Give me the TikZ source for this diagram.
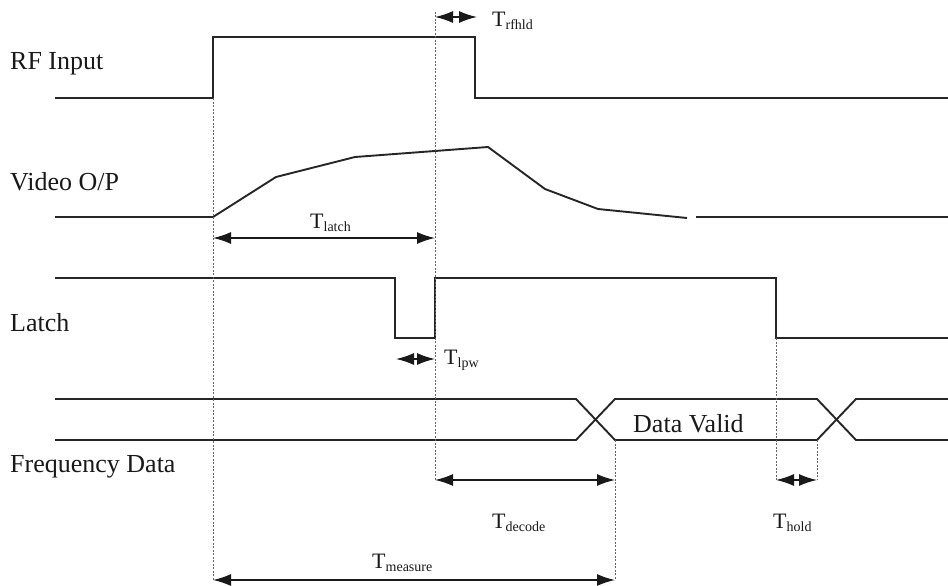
\documentclass[tikz,border=0pt]{standalone}
\usepackage{fontspec}
\setmainfont{Liberation Serif}
\usetikzlibrary{arrows.meta}
\newcommand{\tsub}[1]{{\fontsize{22}{22}\selectfont T}{\fontsize{14}{14}\selectfont\raisebox{-3pt}{#1}}}
\begin{document}
\begin{tikzpicture}[x=1pt,y=-1pt,
  sig/.style={line width=1.9pt, black!85, line join=miter},
  guide/.style={line width=0.8pt, black!60, dash pattern=on 2pt off 1.5pt},
  dim/.style={line width=1.5pt, black!90, {Latex[length=18pt,width=12pt]}-{Latex[length=18pt,width=12pt]}},
  lab/.style={font=\fontsize{26}{30}\selectfont, inner sep=0pt, anchor=base west, black!90},
  tlab/.style={inner sep=0pt, anchor=base west, black!90}]
\useasboundingbox (0,0) rectangle (948,586);
\fill[white] (0,0) rectangle (948,586);

% signal labels
\node[lab] (lrf) at (10,70) {RF Input};
\node[lab] (lvid) at (10,190) {Video O/P};
\node[lab] (llat) at (10,331) {Latch};
\node[lab] (lfd) at (10,472) {Frequency Data};
\node[lab] (ldv) at (633,432) {Data Valid};

% RF input
\draw[sig] (55,98) -- (213,98) coordinate (rfr) -- (213,37) -- (475,37) -- (475,98) coordinate (rff) -- (948,98);
% Video
\draw[sig] (55,217) -- (213,217) coordinate (vs) -- (276,177) -- (355,157) -- (488,147) -- (545,189) -- (598,209) -- (687,218);
\draw[sig] (696,217) -- (948,217);
% Latch
\draw[sig] (55,278) -- (395,278) -- (395,338) coordinate (lf) -- (435,338) coordinate (lr) -- (435,278) -- (776,278) -- (776,338) coordinate (lf2) -- (948,338);
% Frequency data bus
\draw[sig] (55,399) -- (576,399) -- (615,440) coordinate (dvs) -- (817,440) coordinate (dve) -- (856,399) -- (948,399);
\draw[sig] (55,440) -- (576,440) -- (615,399) -- (817,399) -- (856,440) -- (948,440);

% guide coordinates
\coordinate (g1a) at (213,580);
\coordinate (g2t) at (435,12);
\coordinate (g2b) at (435,480);
\coordinate (g3b) at (615,580);
\coordinate (g4b) at (776,480);
\coordinate (g5b) at (817,480);

\draw[guide] (rfr) -- (g1a);
\draw[guide] (g2t) -- (g2b);
\draw[guide] (dvs) -- (g3b);
\draw[guide] (lf2) -- (g4b);
\draw[guide] (dve) -- (g5b);

% dimension arrows
\coordinate (rh1) at (435,17);
\coordinate (rh2) at (477,17);
\draw[dim] (rh1) -- (rh2);
\node[tlab] (trf) at (492,27) {\tsub{rfhld}};

\coordinate (la1) at (213,238);
\coordinate (la2) at (435,238);
\draw[dim] (la1) -- (la2);
\node[tlab] (tla) at (310,228) {\tsub{latch}};

\coordinate (lp1) at (396,359);
\coordinate (lp2) at (435,359);
\draw[dim] (lp1) -- (lp2);
\node[tlab] (tlp) at (444,364) {\tsub{lpw}};

\coordinate (de1) at (435,480);
\coordinate (de2) at (615,480);
\draw[dim] (de1) -- (de2);
\node[tlab] (tde) at (492,528) {\tsub{decode}};

\coordinate (ho1) at (776,480);
\coordinate (ho2) at (817,480);
\draw[dim] (ho1) -- (ho2);
\node[tlab] (tho) at (773,528) {\tsub{hold}};

\coordinate (me1) at (213,580);
\coordinate (me2) at (615,580);
\draw[dim] (me1) -- (me2);
\node[tlab] (tme) at (372,568) {\tsub{measure}};
\end{tikzpicture}
\end{document}
